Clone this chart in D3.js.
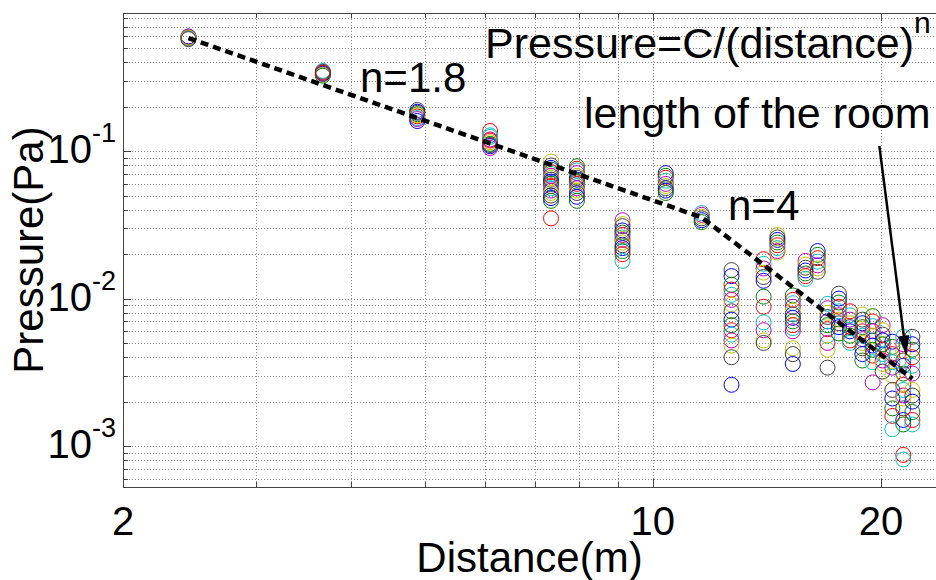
<!DOCTYPE html>
<html>
<head>
<meta charset="utf-8">
<script src="https://cdn.jsdelivr.net/npm/d3@7"></script>
<style>
	body { margin: 0; background: #fff; }
	text { font-family: "Liberation Sans", Arial, sans-serif; fill: #000; }
</style>
</head>
<body>
<svg width="936" height="580"></svg>
<script>
// measurement positions (m)
const distances = [2.44, 3.67, 4.89, 6.1, 7.34, 7.94, 9.12, 10.4, 11.6, 12.7, 14.0, 14.6,
		15.3, 15.9, 16.5, 17.0, 17.6, 18.2, 18.9, 19.5, 20.1, 20.7, 21.4, 22.0];

// pressures measured at each position (Pa), one list per distance
const pressures = [
	[0.60, 0.59, 0.585, 0.58, 0.595, 0.59, 0.575],
	[0.35, 0.34, 0.33, 0.345, 0.335, 0.325, 0.34],
	[0.19, 0.185, 0.178, 0.172, 0.168, 0.165, 0.175, 0.182, 0.16],
	[0.137, 0.128, 0.12, 0.115, 0.11, 0.108, 0.112, 0.118, 0.125, 0.105],
	[0.085, 0.08, 0.077, 0.075, 0.072, 0.07, 0.068, 0.066, 0.064, 0.062, 0.06, 0.058, 0.056, 0.054, 0.052, 0.05, 0.048, 0.046, 0.035],
	[0.079, 0.076, 0.074, 0.071, 0.068, 0.066, 0.064, 0.062, 0.06, 0.058, 0.056, 0.054, 0.052, 0.049, 0.046],
	[0.034, 0.032, 0.031, 0.029, 0.028, 0.027, 0.026, 0.025, 0.024, 0.023, 0.022, 0.021, 0.02, 0.018],
	[0.071, 0.068, 0.066, 0.063, 0.06, 0.058, 0.056, 0.054, 0.052],
	[0.038, 0.037, 0.036, 0.035, 0.034, 0.033],
	[0.0156, 0.0142, 0.0124, 0.0115, 0.0106, 0.0098, 0.0091, 0.0082, 0.0072, 0.0066, 0.0061, 0.0057, 0.0052, 0.0048, 0.0040, 0.0026],
	[0.0185, 0.0172, 0.016, 0.015, 0.014, 0.0132, 0.0103, 0.0088, 0.0069, 0.0061, 0.0052, 0.0050],
	[0.027, 0.026, 0.025, 0.024, 0.023, 0.022, 0.021, 0.0205],
	[0.0105, 0.0098, 0.0093, 0.0088, 0.0083, 0.0078, 0.0074, 0.0070, 0.0066, 0.0063, 0.0060, 0.0046, 0.0042, 0.0036],
	[0.018, 0.017, 0.0162, 0.0155, 0.0148, 0.0142, 0.0136],
	[0.021, 0.0198, 0.0188, 0.0178, 0.0168, 0.016, 0.0152],
	[0.0092, 0.0086, 0.0080, 0.0075, 0.0070, 0.0066, 0.0062, 0.0056, 0.0050, 0.0045, 0.0034],
	[0.0108, 0.0100, 0.0094, 0.0088, 0.0082, 0.0077, 0.0072, 0.0068, 0.0064, 0.0058],
	[0.0082, 0.0077, 0.0072, 0.0068, 0.0064, 0.006, 0.0056, 0.0052, 0.005],
	[0.0078, 0.0072, 0.0068, 0.0064, 0.006, 0.0056, 0.0053, 0.005, 0.0046, 0.0042, 0.0038],
	[0.0076, 0.007, 0.0065, 0.006, 0.0056, 0.0052, 0.0048, 0.0045, 0.0041, 0.0037, 0.0027],
	[0.0066, 0.0061, 0.0057, 0.0052, 0.0049, 0.0045, 0.0042, 0.0038, 0.0036, 0.0032],
	[0.0051, 0.0047, 0.0042, 0.0037, 0.0034, 0.0030, 0.0024, 0.0021, 0.0018, 0.0016, 0.0013],
	[0.0055, 0.0049, 0.0044, 0.0038, 0.0035, 0.0031, 0.0026, 0.0024, 0.0022, 0.0021, 0.0018, 0.0015, 0.0014, 0.00087, 0.00081],
	[0.0055, 0.0049, 0.0045, 0.0040, 0.0035, 0.0031, 0.0024, 0.0022, 0.0020, 0.0017, 0.0015, 0.0014]
];

// power law fit, n=1.8 then n=4
const fitDistance = [2.44, 11.6, 22.0];
const fitPressure = [0.585, 0.0355, 0.00286];

// arrow pointing at the length of the room
const arrowDistance = [19.9, 21.6];
const arrowPressure = [0.108, 0.0041];

const xTicks = [2, 10, 20];
const yExponents = [-1, -2, -3];

// old matlab line colour order
const colors = ["#0000ff", "#008000", "#ff0000", "#00bfbf", "#bf00bf", "#bfbf00", "#404040"];

const svg = d3.select("svg");
const plotLeft = 123, plotRight = 936, plotTop = 13, plotBottom = 487;

const x = d3.scaleLog().domain([2, 23.6]).range([plotLeft, plotRight - 0.5]);
const y = d3.scaleLog().domain([5.27e-4, 0.865]).range([plotBottom, plotTop]);

// grid
const grid = svg.append("g")
		.attr("stroke", "#8c8c8c")
		.attr("stroke-width", 1)
		.attr("stroke-dasharray", "1,2");

grid.selectAll(".gx")
		.data(x.ticks().filter(function(d) { return d > 2; }))
		.enter().append("line")
		.attr("x1", function(d) { return Math.round(x(d)) + 0.5; })
		.attr("x2", function(d) { return Math.round(x(d)) + 0.5; })
		.attr("y1", plotTop)
		.attr("y2", plotBottom);

grid.selectAll(".gy")
		.data(y.ticks())
		.enter().append("line")
		.attr("y1", function(d) { return Math.round(y(d)) + 0.5; })
		.attr("y2", function(d) { return Math.round(y(d)) + 0.5; })
		.attr("x1", plotLeft)
		.attr("x2", plotRight);

// axes box (left, top, bottom) with inward ticks
const axis = svg.append("g").attr("stroke", "#444").attr("stroke-width", 1);
axis.append("line").attr("x1", plotLeft + 0.5).attr("x2", plotLeft + 0.5).attr("y1", plotTop).attr("y2", plotBottom);
axis.append("line").attr("x1", plotLeft).attr("x2", plotRight).attr("y1", plotTop + 0.5).attr("y2", plotTop + 0.5);
axis.append("line").attr("x1", plotLeft).attr("x2", plotRight).attr("y1", plotBottom + 0.5).attr("y2", plotBottom + 0.5);

x.ticks().forEach(function(d) {
	const px = Math.round(x(d)) + 0.5;
	const len = xTicks.indexOf(d) >= 0 ? 8 : 5;
	axis.append("line").attr("x1", px).attr("x2", px).attr("y1", plotBottom).attr("y2", plotBottom - len);
	axis.append("line").attr("x1", px).attr("x2", px).attr("y1", plotTop).attr("y2", plotTop + len);
});
y.ticks().forEach(function(d) {
	const py = Math.round(y(d)) + 0.5;
	const major = Math.abs(Math.log10(d) - Math.round(Math.log10(d))) < 1e-6;
	axis.append("line").attr("x1", plotLeft).attr("x2", plotLeft + (major ? 8 : 5)).attr("y1", py).attr("y2", py);
});

// tick labels
svg.selectAll(".xt")
		.data(xTicks)
		.enter().append("text")
		.attr("x", function(d) { return x(d); })
		.attr("y", 535)
		.attr("text-anchor", "middle")
		.style("font-size", "40px")
		.text(function(d) { return d; });

const yt = svg.selectAll(".yt")
		.data(yExponents)
		.enter().append("text")
		.attr("x", 116)
		.attr("y", function(d) { return y(Math.pow(10, d)) + 12; })
		.attr("text-anchor", "end")
		.style("font-size", "40px");
yt.append("tspan").text("10");
yt.append("tspan")
		.attr("dy", -21)
		.style("font-size", "27px")
		.text(function(d) { return "-" + Math.abs(d); });

// axis titles
svg.append("text")
		.attr("x", (plotLeft + plotRight) / 2)
		.attr("y", 572)
		.attr("text-anchor", "middle")
		.style("font-size", "42px")
		.text("Distance(m)");

svg.append("text")
		.attr("transform", "translate(43," + (plotTop + plotBottom) / 2 + ") rotate(-90)")
		.attr("text-anchor", "middle")
		.style("font-size", "42px")
		.text("Pressure(Pa)");

// measured points
const points = [];
distances.forEach(function(d, i) {
	pressures[i].forEach(function(p, j) {
		points.push({d: d, p: p, c: colors[(j + i * 3) % colors.length]});
	});
});

svg.append("g")
		.selectAll("circle")
		.data(points)
		.enter().append("circle")
		.attr("cx", function(d) { return x(d.d); })
		.attr("cy", function(d) { return y(d.p); })
		.attr("r", 7.5)
		.attr("fill", "none")
		.attr("stroke", function(d) { return d.c; })
		.attr("stroke-width", 1);

// fit line
const fitLine = d3.line()
		.x(function(d) { return x(d[0]); })
		.y(function(d) { return y(d[1]); });

svg.append("path")
		.datum(d3.zip(fitDistance, fitPressure))
		.attr("d", fitLine)
		.attr("fill", "none")
		.attr("stroke", "#000")
		.attr("stroke-width", 4.5)
		.attr("stroke-dasharray", "8,5");

// arrow
const ax0 = x(arrowDistance[0]), ay0 = y(arrowPressure[0]);
const ax1 = x(arrowDistance[1]), ay1 = y(arrowPressure[1]);
const alen = Math.hypot(ax1 - ax0, ay1 - ay0);
const ux = (ax1 - ax0) / alen, uy = (ay1 - ay0) / alen;
const headLen = 20, headW = 5.5;
svg.append("line")
		.attr("x1", ax0).attr("y1", ay0)
		.attr("x2", ax1 - ux * headLen * 0.8).attr("y2", ay1 - uy * headLen * 0.8)
		.attr("stroke", "#000")
		.attr("stroke-width", 2.5);
svg.append("path")
		.attr("d", "M" + ax1 + "," + ay1 +
			"L" + (ax1 - ux * headLen - uy * headW) + "," + (ay1 - uy * headLen + ux * headW) +
			"L" + (ax1 - ux * headLen + uy * headW) + "," + (ay1 - uy * headLen - ux * headW) + "Z")
		.attr("fill", "#000");

// annotations
const eq = svg.append("text")
		.attr("x", 485)
		.attr("y", 58)
		.style("font-size", "43px");
eq.append("tspan").text("Pressure=C/(distance)");
eq.append("tspan").attr("dy", -25).style("font-size", "30px").text("n");

svg.append("text").attr("x", 584).attr("y", 128).style("font-size", "43px").text("length of the room");
svg.append("text").attr("x", 360).attr("y", 92).style("font-size", "42px").text("n=1.8");
svg.append("text").attr("x", 728).attr("y", 220).style("font-size", "42px").text("n=4");
</script>
</body>
</html>
